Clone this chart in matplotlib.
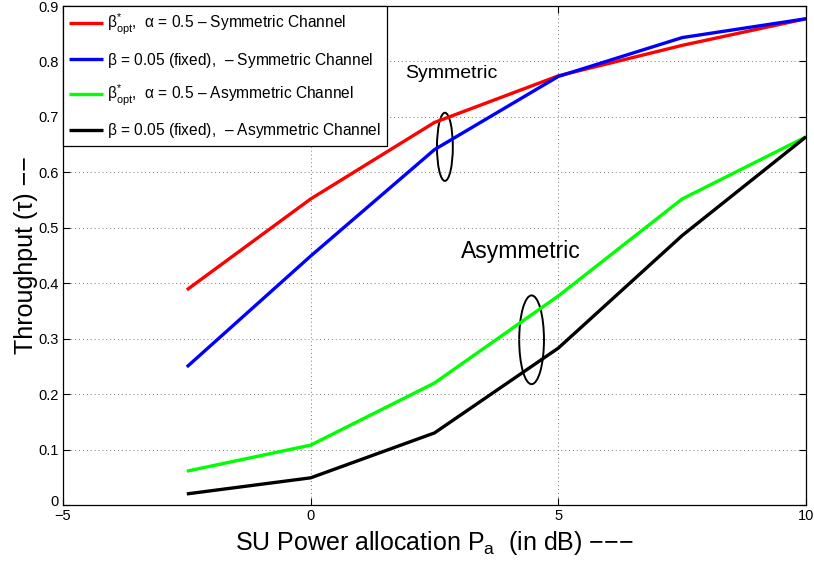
import matplotlib
matplotlib.use("Agg")
import matplotlib.pyplot as plt
import matplotlib.transforms as mtransforms
from matplotlib.patches import Ellipse
from matplotlib import font_manager

names = {f.name for f in font_manager.fontManager.ttflist}
narrow = "Liberation Sans Narrow" if "Liberation Sans Narrow" in names else "Liberation Sans"

plt.rcParams["font.family"] = ["Liberation Sans", "DejaVu Sans"]
plt.rcParams["mathtext.fontset"] = "custom"
plt.rcParams["mathtext.rm"] = "Liberation Sans"
plt.rcParams["mathtext.it"] = "Liberation Sans:italic"
plt.rcParams["mathtext.sf"] = "Liberation Sans"

# SU power allocation (dB)
power_db = [-2.5, 0, 2.5, 5, 7.5, 10]

# Throughput curves
sym_opt = [0.388, 0.552, 0.690, 0.774, 0.829, 0.877]
sym_fixed = [0.249, 0.449, 0.641, 0.773, 0.843, 0.877]
asym_opt = [0.061, 0.108, 0.220, 0.377, 0.552, 0.664]
asym_fixed = [0.020, 0.049, 0.130, 0.283, 0.486, 0.664]

labels = [
    r"$\mathregular{\beta^{*}_{opt}}$,  $\mathregular{\alpha}$ = 0.5 – Symmetric Channel",
    r"$\mathregular{\beta}$ = 0.05 (fixed),  – Symmetric Channel",
    r"$\mathregular{\beta^{*}_{opt}}$,  $\mathregular{\alpha}$ = 0.5 – Asymmetric Channel",
    r"$\mathregular{\beta}$ = 0.05 (fixed),  – Asymmetric Channel",
]
colors = ["#ff0000", "#0000ff", "#00ff00", "#000000"]

x_ticks = [-5, 0, 5, 10]
x_tick_labels = ["\u22125", "0", "5", "10"]
y_ticks = [0, 0.1, 0.2, 0.3, 0.4, 0.5, 0.6, 0.7, 0.8, 0.9]
y_tick_labels = ["0", "0.1", "0.2", "0.3", "0.4", "0.5", "0.6", "0.7", "0.8", "0.9"]

fig = plt.figure(figsize=(8.14, 5.71), dpi=100)
ax = fig.add_axes([63 / 814, (571 - 505) / 571, (806 - 63) / 814, (505 - 6) / 571])

for ys, c, lab in zip([sym_opt, sym_fixed, asym_opt, asym_fixed], colors, labels):
    ax.plot(power_db, ys, color=c, lw=2.4, label=lab, solid_capstyle="butt")

ax.set_xlim(-5, 10)
ax.set_ylim(0, 0.9)
ax.set_xticks(x_ticks)
ax.set_yticks(y_ticks)
ax.set_xticklabels(x_tick_labels, family=narrow)
ax.set_yticklabels(y_tick_labels, family=narrow)
ax.tick_params(direction="in", length=5, width=0.8, top=True, right=True, labelsize=10.5, pad=3)
ax.grid(True, linestyle=(0, (1, 3)), color="#777777", linewidth=0.7)
for s in ax.spines.values():
    s.set_linewidth(0.9)

# lift the "0" on the y axis clear of the x-axis "-5"
lift = mtransforms.ScaledTranslation(0, 5 / 100, fig.dpi_scale_trans)
y0_label = ax.get_yticklabels()[0]
y0_label.set_transform(y0_label.get_transform() + lift)

# Group markers
ax.add_patch(Ellipse((2.71, 0.646), 0.32, 0.123, fill=False, ec="black", lw=1.4))
ax.add_patch(Ellipse((4.46, 0.298), 0.50, 0.160, fill=False, ec="black", lw=1.4))
ax.text(1.9, 0.778, "Symmetric", fontsize=14, va="center", ha="left")
ax.text(3.03, 0.457, "Asymmetric", fontsize=16.5, va="center", ha="left")

ax.set_xlabel(r"SU Power allocation P$_{\mathregular{a}}$  (in dB) −−−", fontsize=18, labelpad=4)
ax.set_ylabel("Throughput (τ) −−", fontsize=18, labelpad=0)

leg = ax.legend(loc="upper left", fontsize=11.2, handlelength=2.2, handletextpad=0.2,
                borderaxespad=0.0, borderpad=0.4, labelspacing=0.85, fancybox=False,
                framealpha=1, edgecolor="black")
leg.get_frame().set_linewidth(0.9)

fig.savefig("out.png", dpi=100)
